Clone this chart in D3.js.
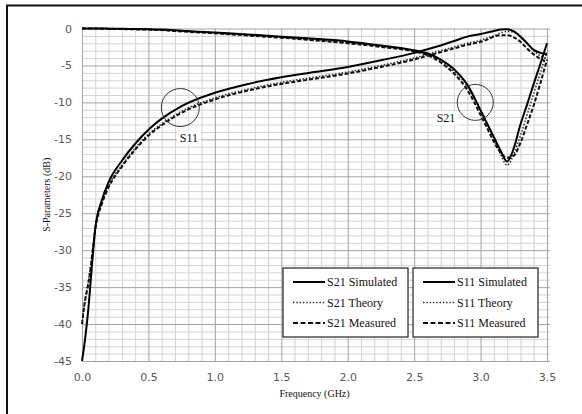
<!DOCTYPE html>
<html>
<head>
<meta charset="utf-8">
<script src="https://cdn.jsdelivr.net/npm/d3@7"></script>
<style>
  body { margin: 0; background: #fff; }
  #graf { width: 582px; height: 414px; }
  .tick text { font-family: 'DejaVu Sans', Verdana, sans-serif; font-size: 11px; fill: #595959; }
  .eje path { display: none; }
  .serif { font-family: 'Liberation Serif', 'Times New Roman', serif; fill: #111; }
</style>
</head>
<body>
<div id="graf"></div>
<script>
// I. Datos
frecuencia = [0, 0.02, 0.05, 0.08, 0.1, 0.15, 0.2, 0.3, 0.4, 0.5, 0.6, 0.75, 1.0, 1.25, 1.5, 1.75, 2.0, 2.25, 2.5, 2.6, 2.7, 2.8, 2.9, 3.0, 3.05, 3.1, 3.15, 3.2, 3.25, 3.3, 3.35, 3.4, 3.45, 3.5]

s21Simulado = [0, 0, 0, 0, 0, 0, -0.02, -0.05, -0.08, -0.1, -0.15, -0.3, -0.55, -0.8, -1.1, -1.4, -1.75, -2.3, -2.95, -3.35, -4.2, -5.5, -7.6, -11.1, -12.9, -14.7, -16.5, -18.0, -16.2, -13.0, -10.3, -7.5, -4.8, -2.0]
s21Teoria   = [0, 0, 0, 0, 0, 0, -0.03, -0.07, -0.1, -0.13, -0.2, -0.35, -0.6, -0.9, -1.2, -1.55, -1.9, -2.4, -3.05, -3.5, -4.4, -5.8, -7.8, -11.0, -12.9, -14.9, -17.0, -18.5, -17.0, -14.5, -11.7, -8.8, -6.0, -3.2]
s21Medido   = [0, 0, 0, 0, 0, -0.02, -0.04, -0.08, -0.12, -0.15, -0.22, -0.4, -0.65, -0.95, -1.25, -1.6, -2.0, -2.5, -3.1, -3.6, -4.6, -6.1, -8.3, -11.7, -13.5, -15.3, -16.8, -17.5, -17.2, -15.5, -13.0, -10.4, -7.4, -4.2]

s11Simulado = [-45, -42.5, -37.5, -31, -27, -23.2, -20.8, -17.9, -15.6, -13.7, -12.2, -10.5, -8.7, -7.5, -6.6, -5.9, -5.2, -4.3, -3.3, -2.8, -2.3, -1.7, -1.1, -0.75, -0.55, -0.35, -0.15, -0.1, -0.4, -1.1, -2.0, -2.9, -3.3, -3.5]
s11Teoria   = [-40, -37, -34, -30, -27, -23.5, -21.3, -18.5, -16.2, -14.3, -12.9, -11.2, -9.4, -8.2, -7.3, -6.6, -5.9, -5.0, -4.0, -3.5, -3.0, -2.5, -2.0, -1.6, -1.3, -1.0, -0.6, -0.4, -0.5, -1.0, -2.0, -3.0, -3.7, -4.0]
s11Medido   = [-40, -37.2, -34.3, -30.2, -27.2, -23.7, -21.5, -18.7, -16.4, -14.5, -13.1, -11.4, -9.6, -8.4, -7.5, -6.8, -6.1, -5.2, -4.2, -3.7, -3.2, -2.7, -2.2, -1.8, -1.5, -1.1, -0.9, -0.9, -1.2, -1.8, -2.7, -3.5, -4.1, -4.5]

xTicks = [0, 0.5, 1.0, 1.5, 2.0, 2.5, 3.0, 3.5]
yTicks = [0, -5, -10, -15, -20, -25, -30, -35, -40, -45]

leyenda1 = ['S21 Simulated', 'S21 Theory', 'S21 Measured']
leyenda2 = ['S11 Simulated', 'S11 Theory', 'S11 Measured']

// II. Configuración
margins = { top: 28.5, left: 82, right: 35, bottom: 53 }
ancho_total = 582
alto_total = 414
ancho = ancho_total - margins.left - margins.right
alto = alto_total - margins.top - margins.bottom

svg = d3.select('#graf').append('svg')
        .attr('width', ancho_total)
        .attr('height', alto_total)

// marco exterior (solo arriba e izquierda visibles)
svg.append('line').attr('x1', 6).attr('x2', 582).attr('y1', 5.5).attr('y2', 5.5)
   .attr('stroke', '#111').attr('stroke-width', 2)
svg.append('line').attr('x1', 7).attr('x2', 7).attr('y1', 5).attr('y2', 414)
   .attr('stroke', '#111').attr('stroke-width', 2)

g = svg.append('g').attr('transform', `translate(${margins.left}, ${margins.top})`)

x = d3.scaleLinear().domain([0, 3.5]).range([0, ancho])
y = d3.scaleLinear().domain([-45, 0]).range([alto, 0])

// III. Rejilla
menoresX = d3.range(0, 36).map(i => i / 10)
menoresY = d3.range(0, 46).map(i => -i)

g.append('g').attr('class', 'eje')
  .attr('transform', `translate(0, ${alto})`)
  .call(d3.axisBottom(x).tickValues(menoresX.filter(d => Math.round(d * 10) % 5 != 0)).tickSize(-alto).tickFormat(''))
  .selectAll('line').attr('stroke', '#d4d4d4')

g.append('g').attr('class', 'eje')
  .attr('transform', `translate(${ancho + 3}, 0)`)
  .call(d3.axisLeft(y).tickValues(menoresY.filter(d => d % 5 != 0)).tickSize(ancho + 3).tickFormat(''))
  .selectAll('line').attr('stroke', '#d4d4d4')

g.append('g').attr('class', 'eje')
  .attr('transform', `translate(0, ${alto})`)
  .call(d3.axisBottom(x).tickValues(xTicks).tickSize(-alto).tickFormat(''))
  .selectAll('line').attr('stroke', '#a3a3a3')

g.append('g').attr('class', 'eje')
  .attr('transform', `translate(${ancho + 3}, 0)`)
  .call(d3.axisLeft(y).tickValues(yTicks).tickSize(ancho + 3).tickFormat(''))
  .selectAll('line').attr('stroke', '#a3a3a3')

// ejes con etiquetas
xAxisGroup = g.append('g').attr('class', 'eje')
  .attr('transform', `translate(0, ${alto})`)
  .call(d3.axisBottom(x).tickValues(xTicks).tickSize(0).tickPadding(12).tickFormat(d3.format('.1f')))

yAxisGroup = g.append('g').attr('class', 'eje')
  .call(d3.axisLeft(y).tickValues(yTicks).tickSize(0).tickPadding(10).tickFormat(d => String(d)))

g.append('text').attr('class', 'serif')
  .attr('x', ancho / 2).attr('y', alto + 36)
  .attr('text-anchor', 'middle').style('font-size', '10px')
  .text('Frequency (GHz)')

g.append('text').attr('class', 'serif')
  .attr('transform', `translate(-32, ${alto / 2}) rotate(-90)`)
  .attr('text-anchor', 'middle').style('font-size', '10px')
  .text('S-Parameters (dB)')

// IV. Curvas
linea = d3.line()
  .x(d => x(d[0]))
  .y(d => y(d[1]))
  .curve(d3.curveMonotoneX)

estilos = {
  simulado: { dash: null, width: 2, color: '#000' },
  teoria:   { dash: '1.5,1.8', width: 1.6, color: '#333' },
  medido:   { dash: '4,2', width: 2, color: '#111' }
}

series = [
  { valores: s21Teoria, tipo: 'teoria' },
  { valores: s11Teoria, tipo: 'teoria' },
  { valores: s21Medido, tipo: 'medido' },
  { valores: s11Medido, tipo: 'medido' },
  { valores: s21Simulado, tipo: 'simulado' },
  { valores: s11Simulado, tipo: 'simulado' }
]

series.forEach(s => {
  g.append('path')
    .datum(frecuencia.map((f, i) => [f, s.valores[i]]))
    .attr('d', linea)
    .attr('fill', 'none')
    .attr('stroke', estilos[s.tipo].color)
    .attr('stroke-width', estilos[s.tipo].width)
    .attr('stroke-dasharray', estilos[s.tipo].dash)
})

// V. Anotaciones
function anotacion(cf, cdb, r, texto, tx, ty) {
  g.append('circle')
    .attr('cx', x(cf)).attr('cy', y(cdb)).attr('r', r)
    .attr('fill', 'none').attr('stroke', '#333').attr('stroke-width', 1)
  t = g.append('text').attr('class', 'serif')
    .attr('x', x(tx)).attr('y', y(ty))
    .attr('text-anchor', 'middle').style('font-size', '12px')
    .text(texto)
  b = t.node().getBBox()
  g.insert('rect', () => t.node())
    .attr('x', b.x - 3).attr('y', b.y).attr('width', b.width + 6).attr('height', b.height)
    .attr('fill', '#fff')
}
anotacion(0.74, -10.7, 19, 'S11', 0.805, -15.3)
anotacion(2.96, -10, 18, 'S21', 2.74, -12.7)

// VI. Leyendas
function leyenda(x0, nombres) {
  lg = svg.append('g').attr('transform', `translate(${x0}, 268)`)
  lg.append('rect').attr('width', 125).attr('height', 69)
    .attr('fill', '#fff').attr('stroke', '#222').attr('stroke-width', 1.2)
  ;['simulado', 'teoria', 'medido'].forEach((tipo, i) => {
    yy = 14 + i * 20.5
    lg.append('line').attr('x1', 10).attr('x2', 42).attr('y1', yy).attr('y2', yy)
      .attr('stroke', estilos[tipo].color)
      .attr('stroke-width', estilos[tipo].width)
      .attr('stroke-dasharray', tipo == 'medido' ? '5,2.5' : estilos[tipo].dash)
    lg.append('text').attr('class', 'serif')
      .attr('x', 44).attr('y', yy + 4).style('font-size', '12px')
      .text(nombres[i])
  })
}
leyenda(283, leyenda1)
leyenda(413, leyenda2)
</script>
</body>
</html>
